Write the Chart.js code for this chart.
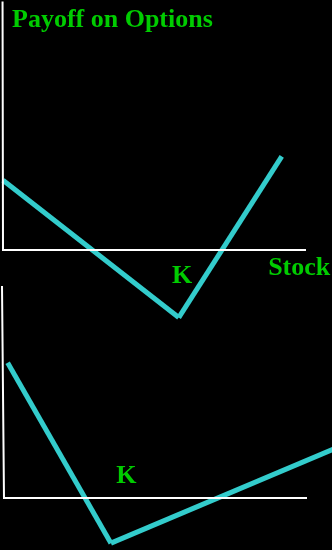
<!DOCTYPE html>
<html>
<head>
<meta charset="utf-8">
<title>Payoff on Options</title>
<script src="https://cdn.jsdelivr.net/npm/chart.js@4/dist/chart.umd.min.js"></script>
<style>
    html, body { margin: 0; padding: 0; background: #000; }
    #payoff-chart { display: block; }
</style>
</head>
<body>
<canvas id="payoff-chart" width="332" height="550"></canvas>
<script>
(function() {
    'use strict';

    // Upper diagram: stock price vs payoff
    var topStock = [0, 58, 92];
    var topPayoff = [23, -22.3, 30.9];
    var topAxisStock = 100;
    var topAxisPayoff = 82;

    // Lower diagram
    var bottomStock = [1.2, 35.3, 111];
    var bottomPayoff = [44.6, -14.9, 17.1];
    var bottomAxisStock = 100;
    var bottomAxisPayoff = 70;

    // Text labels, in each diagram's own units
    var topLabels = [
        { text: 'K', stock: 59.1, payoff: -10.9, align: 'center' },
        { text: 'Stock', stock: 87.5, payoff: -8.2, align: 'left' }
    ];
    var bottomLabels = [
        { text: 'K', stock: 40.4, payoff: 5, align: 'center' }
    ];

    var W = 332, H = 550;
    var PX = 3.03; // pixels per unit, both diagrams

    var green = '#00cc00';
    var cyan = '#33cccc';
    var font = 'bold 26px "Liberation Serif", "Times New Roman", serif';

    // scale range so that value 0 lands at the given pixel
    function xRange(originPx) {
        return { min: -originPx / PX, max: (W - originPx) / PX };
    }
    function yRange(originPx) {
        var max = originPx / PX;
        return { min: max - H / PX, max: max };
    }

    function pts(xs, ys, from, to) {
        var out = [];
        for (var i = from; i <= to; i++) {
            out.push({ x: xs[i], y: ys[i] });
        }
        return out;
    }

    function leg(data, xId, yId) {
        return {
            data: data,
            xAxisID: xId,
            yAxisID: yId,
            borderColor: cyan,
            borderWidth: 5,
            borderCapStyle: 'butt',
            pointRadius: 0,
            tension: 0,
            fill: false
        };
    }

    function axes(xs, ys, xId, yId) {
        return {
            data: [{ x: xs[0], y: ys[0] }, { x: 0, y: 0 }, { x: xs[1], y: 0 }],
            xAxisID: xId,
            yAxisID: yId,
            borderColor: '#ffffff',
            borderWidth: 2,
            borderCapStyle: 'butt',
            borderJoinStyle: 'miter',
            pointRadius: 0,
            tension: 0,
            fill: false
        };
    }

    function scale(range) {
        return { type: 'linear', display: false, min: range.min, max: range.max };
    }

    // Title and the K / Stock labels
    var textPlugin = {
        id: 'payoffText',
        afterDatasetsDraw: function(chart) {
            var ctx = chart.ctx;
            ctx.save();
            ctx.fillStyle = green;
            ctx.font = font;
            ctx.textBaseline = 'alphabetic';
            ctx.textAlign = 'left';
            ctx.fillText('Payoff on Options', 12, 27);

            function put(list, xId, yId) {
                list.forEach(function(l) {
                    ctx.textAlign = l.align;
                    ctx.fillText(l.text,
                        chart.scales[xId].getPixelForValue(l.stock),
                        chart.scales[yId].getPixelForValue(l.payoff));
                });
            }
            put(topLabels, 'x', 'y');
            put(bottomLabels, 'x2', 'y2');
            ctx.restore();
        }
    };

    var ctx = document.getElementById('payoff-chart').getContext('2d');
    new Chart(ctx, {
        type: 'line',
        data: {
            datasets: [
                axes([-0.15, topAxisStock], [topAxisPayoff], 'x', 'y'),
                axes([-0.66, bottomAxisStock], [bottomAxisPayoff], 'x2', 'y2'),
                leg(pts(topStock, topPayoff, 0, 1), 'x', 'y'),
                leg(pts(topStock, topPayoff, 1, 2), 'x', 'y'),
                leg(pts(bottomStock, bottomPayoff, 0, 1), 'x2', 'y2'),
                leg(pts(bottomStock, bottomPayoff, 1, 2), 'x2', 'y2')
            ]
        },
        options: {
            responsive: false,
            devicePixelRatio: 1,
            animation: false,
            events: [],
            layout: { padding: 0 },
            scales: {
                x: scale(xRange(3)),
                y: scale(yRange(250)),
                x2: scale(xRange(4)),
                y2: scale(yRange(498))
            },
            plugins: {
                legend: { display: false },
                tooltip: { enabled: false },
                title: { display: false }
            }
        },
        plugins: [textPlugin]
    });
})();
</script>
</body>
</html>
